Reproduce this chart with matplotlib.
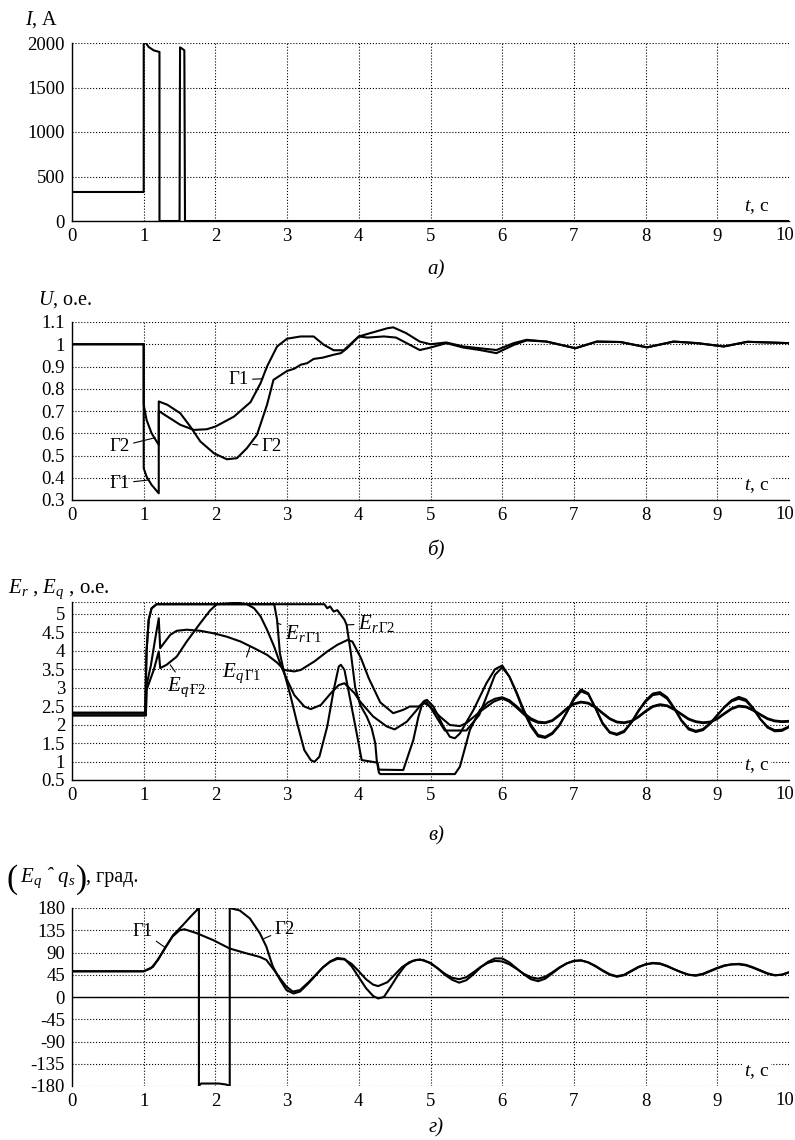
import matplotlib
matplotlib.use("Agg")
import matplotlib.pyplot as plt

# --- fonts: Times-like serif, math in the same family
plt.rcParams['font.family'] = ['Liberation Serif', 'DejaVu Serif']
plt.rcParams['mathtext.fontset'] = 'custom'
plt.rcParams['mathtext.rm'] = 'Liberation Serif'
plt.rcParams['mathtext.it'] = 'Liberation Serif:italic'
plt.rcParams['mathtext.bf'] = 'Liberation Serif:bold'

# ---------------- data ----------------
# a) current I, A
t_I = [0, 1.0, 1.0, 1.07, 1.14, 1.22, 1.22, 1.5, 1.507, 1.544, 1.567, 1.576, 10]
I_A = [326, 326, 2035, 1955, 1917, 1899, 0, 0, 1951, 1932, 1917, 0, 0]

# b) voltage U, p.u.
t_U1 = [0, 1.0, 1.0, 1.04, 1.11, 1.21, 1.21, 1.33, 1.51, 1.70, 1.88, 2.0, 2.26,
        2.49, 2.63, 2.72, 2.86, 3.0, 3.19, 3.37, 3.51, 3.65, 3.79, 4.0, 4.12,
        4.35, 4.52, 4.85, 5.0, 5.22, 5.46, 5.69, 5.92, 6.16, 6.34, 6.62, 7.02,
        7.32, 7.65, 8.02, 8.39, 8.72, 9.09, 9.42, 10]
U_1 = [1, 1, 0.443, 0.405, 0.368, 0.33, 0.70, 0.675, 0.638, 0.615, 0.618, 0.63,
       0.675, 0.74, 0.825, 0.90, 0.99, 1.025, 1.035, 1.035, 0.998, 0.973, 0.973,
       1.035, 1.03, 1.035, 1.03, 0.974, 0.985, 1.005, 0.985, 0.974, 0.96, 0.997,
       1.017, 1.012, 0.982, 1.012, 1.01, 0.986, 1.012, 1.005, 0.99, 1.011, 1.005]
t_U2 = [0, 1.0, 1.0, 1.04, 1.11, 1.18, 1.21, 1.21, 1.33, 1.51, 1.65, 1.79, 1.98,
        2.16, 2.30, 2.44, 2.58, 2.72, 2.81, 3.0, 3.1, 3.19, 3.28, 3.37, 3.5,
        3.65, 3.75, 3.84, 4.0, 4.16, 4.4, 4.48, 4.66, 4.85, 5.0, 5.22, 5.46,
        5.69, 5.92, 6.16, 6.34, 6.62, 7.02, 7.32, 7.65, 8.02, 8.39, 8.72, 9.09,
        9.42, 10]
U_2 = [1, 1, 0.728, 0.66, 0.60, 0.563, 0.548, 0.743, 0.728, 0.69, 0.63, 0.563,
       0.51, 0.483, 0.488, 0.533, 0.593, 0.728, 0.84, 0.88, 0.89, 0.908, 0.915,
       0.934, 0.94, 0.953, 0.96, 0.983, 1.035, 1.05, 1.072, 1.076, 1.05, 1.012,
       1.0, 1.008, 0.99, 0.982, 0.974, 1.005, 1.02, 1.012, 0.982, 1.012, 1.01,
       0.986, 1.012, 1.005, 0.99, 1.011, 1.005]

# c) E_r and E_q, p.u.
t_Er1 = [0, 1.02, 1.04, 1.07, 1.11, 1.18, 2.82, 2.86, 2.9, 2.95, 3.05, 3.14,
         3.24, 3.33, 3.38, 3.45, 3.56, 3.65, 3.72, 3.75, 3.8, 3.89, 3.98, 4.04,
         4.26, 4.28, 4.62, 4.76, 4.83, 4.88, 4.92, 4.99, 5.1, 5.2, 5.5, 5.68,
         5.8, 5.9, 6.0, 6.1, 6.2, 6.3, 6.4, 6.5, 6.6, 6.7, 6.8, 6.9, 7.0, 7.1,
         7.2, 7.3, 7.4, 7.5, 7.6, 7.7, 7.8, 7.9, 8.0, 8.1, 8.2, 8.3, 8.4, 8.5,
         8.6, 8.7, 8.8, 8.9, 9.0, 9.1, 9.2, 9.3, 9.4, 9.5, 9.6, 9.7, 9.8, 9.9, 10]
Er_1 = [2.32, 2.32, 4.0, 4.84, 5.15, 5.26, 5.26, 4.84, 3.93, 3.48, 2.76, 2.04,
        1.31, 1.04, 0.99, 1.13, 1.95, 2.94, 3.57, 3.62, 3.48, 2.58, 1.67, 1.04,
        0.97, 0.78, 0.77, 1.58, 2.2, 2.53, 2.65, 2.5, 2.15, 1.84, 1.84, 2.26,
        2.85, 3.35, 3.55, 3.3, 2.88, 2.4, 2.0, 1.72, 1.67, 1.78, 2.0, 2.33,
        2.68, 2.9, 2.82, 2.45, 2.05, 1.8, 1.75, 1.83, 2.05, 2.36, 2.62, 2.8,
        2.83, 2.7, 2.43, 2.12, 1.9, 1.83, 1.88, 2.04, 2.26, 2.47, 2.63, 2.7,
        2.64, 2.43, 2.15, 1.94, 1.85, 1.86, 1.95]
t_Er2 = [0, 1.02, 1.04, 1.07, 1.11, 1.18, 3.52, 3.56, 3.6, 3.65, 3.7, 3.75, 3.8,
         3.83, 3.89, 3.95, 4.02, 4.11, 4.18, 4.23, 4.25, 4.28, 4.3, 5.34, 5.41,
         5.55, 5.69, 5.8, 5.9, 6.0, 6.1, 6.2, 6.3, 6.4, 6.5, 6.6, 6.7, 6.8, 6.9,
         7.0, 7.1, 7.2, 7.3, 7.4, 7.5, 7.6, 7.7, 7.8, 7.9, 8.0, 8.1, 8.2, 8.3,
         8.4, 8.5, 8.6, 8.7, 8.8, 8.9, 9.0, 9.1, 9.2, 9.3, 9.4, 9.5, 9.6, 9.7,
         9.8, 9.9, 10]
Er_2 = [2.32, 2.32, 4.0, 4.84, 5.15, 5.26, 5.26, 5.15, 5.2, 5.06, 5.1, 4.97, 4.84,
        4.7, 3.93, 3.0, 2.53, 2.22, 1.9, 1.49, 1.04, 0.7, 0.66, 0.66, 0.86, 1.86,
        2.4, 2.6, 2.7, 2.74, 2.66, 2.5, 2.32, 2.17, 2.08, 2.06, 2.12, 2.27, 2.44,
        2.57, 2.62, 2.59, 2.48, 2.32, 2.17, 2.08, 2.06, 2.1, 2.22, 2.37, 2.5,
        2.55, 2.52, 2.42, 2.29, 2.16, 2.09, 2.06, 2.08, 2.17, 2.31, 2.44, 2.51,
        2.49, 2.4, 2.28, 2.17, 2.11, 2.09, 2.1]
t_Eq1 = [0, 1.03, 1.04, 1.1, 1.15, 1.21, 1.23, 1.28, 1.37, 1.46, 1.6, 1.79, 1.98,
         2.16, 2.35, 2.54, 2.72, 2.86, 2.96, 3.1, 3.19, 3.38, 3.56, 3.7, 3.84,
         3.91, 4.03, 4.14, 4.3, 4.48, 4.62, 4.71, 4.83, 4.92, 4.99, 5.13, 5.27,
         5.41, 5.5, 5.69, 5.88, 6.0, 6.1, 6.2, 6.3, 6.4, 6.5, 6.6, 6.7, 6.8, 6.9,
         7.0, 7.1, 7.2, 7.3, 7.4, 7.5, 7.6, 7.7, 7.8, 7.9, 8.0, 8.1, 8.2, 8.3,
         8.4, 8.5, 8.6, 8.7, 8.8, 8.9, 9.0, 9.1, 9.2, 9.3, 9.4, 9.5, 9.6, 9.7,
         9.8, 9.9, 10]
Eq_1 = [2.25, 2.25, 3.07, 3.6, 4.2, 4.88, 4.07, 4.2, 4.43, 4.54, 4.57, 4.54, 4.47,
        4.38, 4.25, 4.07, 3.89, 3.68, 3.48, 3.44, 3.48, 3.71, 3.98, 4.16, 4.29,
        4.25, 3.8, 3.25, 2.6, 2.31, 2.4, 2.49, 2.49, 2.58, 2.49, 2.22, 1.99,
        1.96, 2.04, 2.35, 2.62, 2.71, 2.62, 2.46, 2.28, 2.13, 2.05, 2.04, 2.1,
        2.25, 2.42, 2.55, 2.6, 2.57, 2.46, 2.3, 2.15, 2.06, 2.04, 2.08, 2.2,
        2.35, 2.48, 2.53, 2.5, 2.4, 2.27, 2.14, 2.07, 2.04, 2.06, 2.15, 2.29,
        2.42, 2.49, 2.47, 2.38, 2.26, 2.15, 2.09, 2.07, 2.08]
t_Eq2 = [0, 1.03, 1.04, 1.14, 1.21, 1.23, 1.32, 1.46, 1.6, 1.79, 1.93, 2.02, 2.3,
         2.44, 2.54, 2.63, 2.72, 2.82, 2.91, 3.0, 3.1, 3.24, 3.33, 3.47, 3.61,
         3.72, 3.8, 3.94, 4.02, 4.2, 4.39, 4.5, 4.67, 4.81, 4.9, 4.95, 5.04, 5.18,
         5.27, 5.34, 5.41, 5.6, 5.78, 5.9, 6.0, 6.1, 6.2, 6.3, 6.4, 6.5, 6.6,
         6.7, 6.8, 6.9, 7.0, 7.1, 7.2, 7.3, 7.4, 7.5, 7.6, 7.7, 7.8, 7.9, 8.0,
         8.1, 8.2, 8.3, 8.4, 8.5, 8.6, 8.7, 8.8, 8.9, 9.0, 9.1, 9.2, 9.3, 9.4,
         9.5, 9.6, 9.7, 9.8, 9.9, 10]
Eq_2 = [2.25, 2.25, 2.94, 3.48, 3.98, 3.53, 3.62, 3.84, 4.25, 4.75, 5.1, 5.26,
        5.3, 5.26, 5.15, 4.93, 4.57, 4.11, 3.62, 3.21, 2.8, 2.49, 2.42, 2.53,
        2.85, 3.07, 3.12, 2.85, 2.62, 2.22, 1.95, 1.87, 2.08, 2.4, 2.62, 2.67,
        2.49, 1.95, 1.67, 1.63, 1.76, 2.4, 3.12, 3.5, 3.6, 3.3, 2.85, 2.35, 1.95,
        1.68, 1.64, 1.75, 1.98, 2.33, 2.72, 2.95, 2.85, 2.45, 2.02, 1.78, 1.72,
        1.8, 2.05, 2.38, 2.65, 2.84, 2.88, 2.74, 2.45, 2.1, 1.87, 1.8, 1.85,
        2.02, 2.25, 2.48, 2.66, 2.75, 2.68, 2.45, 2.15, 1.92, 1.82, 1.83, 1.93]

# d) angle (E_q ^ q_s), degrees
t_d1 = [0, 1.0, 1.1, 1.2, 1.3, 1.4, 1.5, 1.57, 1.74, 1.97, 2.2, 2.44, 2.62,
        2.71, 2.8, 2.9, 2.99, 3.08, 3.18, 3.3, 3.4, 3.5, 3.6, 3.7, 3.8, 3.9,
        4.0, 4.1, 4.2, 4.27, 4.4, 4.5, 4.6, 4.7, 4.8, 4.9, 5.0, 5.1, 5.2, 5.3,
        5.4, 5.5, 5.6, 5.7, 5.8, 5.9, 6.0, 6.1, 6.2, 6.3, 6.4, 6.5, 6.6, 6.7,
        6.8, 6.9, 7.0, 7.1, 7.2, 7.3, 7.4, 7.5, 7.6, 7.7, 7.8, 7.9, 8.0, 8.1,
        8.2, 8.3, 8.4, 8.5, 8.6, 8.7, 8.8, 8.9, 9.0, 9.1, 9.2, 9.3, 9.4, 9.5,
        9.6, 9.7, 9.8, 9.9, 10]
d_1 = [52, 52, 58, 75, 100, 122, 135, 137, 129, 115, 98, 88, 81, 75, 58, 38, 21,
       11, 14, 30, 45, 60, 71, 77, 76, 67, 52, 36, 25, 22, 30, 45, 60, 70, 75,
       75, 68, 58, 47, 39, 36, 40, 50, 61, 69, 73, 72, 66, 57, 47, 40, 37, 41,
       50, 60, 68, 73, 74, 70, 63, 54, 46, 42, 45, 53, 61, 66, 68, 67, 62, 56,
       50, 45, 44, 47, 53, 59, 64, 66, 66, 64, 59, 53, 47, 44, 45, 50]
t_d2 = [0, 1.0, 1.13, 1.27, 1.41, 1.55, 1.65, 1.77, 1.77, 1.8, 2.05, 2.15, 2.2,
        2.2, 2.34, 2.48, 2.62, 2.71, 2.8, 2.9, 2.99, 3.09, 3.18, 3.3, 3.4, 3.5,
        3.6, 3.7, 3.8, 3.9, 4.0, 4.1, 4.2, 4.27, 4.35, 4.45, 4.55, 4.65, 4.75,
        4.85, 5.0, 5.1, 5.2, 5.3, 5.4, 5.5, 5.6, 5.7, 5.8, 5.9, 6.0, 6.1, 6.2,
        6.3, 6.4, 6.5, 6.6, 6.7, 6.8, 6.9, 7.0, 7.1, 7.2, 7.3, 7.4, 7.5, 7.6,
        7.7, 7.8, 7.9, 8.0, 8.1, 8.2, 8.3, 8.4, 8.5, 8.6, 8.7, 8.8, 8.9, 9.0,
        9.1, 9.2, 9.3, 9.4, 9.5, 9.6, 9.7, 9.8, 9.9, 10]
d_2 = [52, 52, 61, 92, 125, 146, 162, 180, -180, -175, -175, -177, -180, 180,
       175, 159, 129, 102, 62, 35, 14, 7, 11, 28, 44, 60, 72, 79, 77, 62, 40, 18,
       2, -3, 0, 22, 45, 64, 73, 76, 69, 58, 45, 35, 29, 34, 46, 60, 71, 78, 78,
       70, 58, 46, 36, 32, 37, 48, 59, 68, 73, 74, 70, 62, 53, 45, 41, 44, 52,
       60, 66, 69, 68, 63, 56, 50, 45, 43, 46, 52, 58, 63, 66, 67, 65, 60, 54,
       48, 44, 45, 50]

# ---------------- figure ----------------
fig = plt.figure(figsize=(7.95, 11.4), dpi=100)

L, W, H = 72 / 795, 717 / 795, 178 / 1140
bottoms = [1 - 221 / 1140, 1 - 500 / 1140, 1 - 780 / 1140, 1 - 1086 / 1140]
axs = [fig.add_axes([L, b, W, H]) for b in bottoms]

LW = 1.5
FS = 13.5


def style(ax, ylim, yticks, ylabels):
    ax.set_xlim(0, 10)
    ax.set_ylim(*ylim)
    ax.set_xticks(range(11))
    # last label "10" is drawn by hand, shifted left so it is not cut off
    ax.set_xticklabels([str(i) for i in range(10)] + [''])
    ax.annotate('10', xy=(1, 0), xycoords='axes fraction', xytext=(-3, -4.5),
                textcoords='offset points', ha='center', va='top', fontsize=FS)
    ax.set_yticks(yticks)
    ax.set_yticklabels(ylabels)
    ax.tick_params(length=0, labelsize=FS, pad=5)
    ax.grid(True, linestyle=':', color='black', linewidth=0.8)
    for s in ['top', 'right']:
        ax.spines[s].set_visible(False)
    for s in ['left', 'bottom']:
        ax.spines[s].set_linewidth(1.0)
    ax.text(0.955, 0.08, '$t$, с', transform=ax.transAxes, ha='center',
            va='center', fontsize=14, zorder=6,
            bbox=dict(facecolor='white', edgecolor='none', pad=1))


lead = dict(arrowstyle='-', lw=0.8, color='black', shrinkA=1, shrinkB=0)

# a)
ax = axs[0]
ax.plot(t_I, I_A, color='black', lw=LW)
style(ax, (0, 2000), [0, 500, 1000, 1500, 2000],
      ['0', '500', '1000', '1500', '2000'])

# b)
ax = axs[1]
ax.plot(t_U1, U_1, color='black', lw=LW)
ax.plot(t_U2, U_2, color='black', lw=LW)
u_ticks = [0.3, 0.4, 0.5, 0.6, 0.7, 0.8, 0.9, 1.0, 1.1]
style(ax, (0.3, 1.1), u_ticks, ['0.3', '0.4', '0.5', '0.6', '0.7', '0.8',
                                '0.9', '1', '1.1'])
ax.annotate('Г1', xy=(2.66, 0.845), xytext=(2.32, 0.84), ha='center',
            va='center', fontsize=FS, arrowprops=lead)
ax.annotate('Г2', xy=(2.52, 0.55), xytext=(2.79, 0.54), ha='center',
            va='center', fontsize=FS, arrowprops=lead)
ax.annotate('Г2', xy=(1.16, 0.58), xytext=(0.66, 0.54), ha='center',
            va='center', fontsize=FS, arrowprops=lead)
ax.annotate('Г1', xy=(1.07, 0.39), xytext=(0.66, 0.375), ha='center',
            va='center', fontsize=FS, arrowprops=lead)

# c)
ax = axs[2]
for tt, vv in [(t_Er1, Er_1), (t_Er2, Er_2), (t_Eq1, Eq_1), (t_Eq2, Eq_2)]:
    ax.plot(tt, vv, color='black', lw=LW)
e_ticks = [0.5, 1, 1.5, 2, 2.5, 3, 3.5, 4, 4.5, 5]
style(ax, (0.5, 5.32), e_ticks, ['0.5', '1', '1.5', '2', '2.5', '3', '3.5',
                                 '4', '4.5', '5'])
ax.axhline(5.32, linestyle=':', color='black', linewidth=0.8)
ax.annotate(r'$E_{r\,\Gamma1}$', xy=(2.86, 4.75), xytext=(2.97, 4.48),
            ha='left', va='center', fontsize=15, arrowprops=lead)
ax.annotate(r'$E_{r\,\Gamma2}$', xy=(3.84, 4.7), xytext=(3.99, 4.74),
            ha='left', va='center', fontsize=15, arrowprops=lead)
ax.annotate(r'$E_{q\,\Gamma1}$', xy=(2.48, 4.1), xytext=(2.09, 3.4),
            ha='left', va='center', fontsize=15, arrowprops=lead)
ax.annotate(r'$E_{q\,\Gamma2}$', xy=(1.37, 3.62), xytext=(1.32, 3.0),
            ha='left', va='center', fontsize=15, arrowprops=lead)

# d)
ax = axs[3]
ax.plot(t_d1, d_1, color='black', lw=LW)
ax.plot(t_d2, d_2, color='black', lw=LW)
d_ticks = [-180, -135, -90, -45, 0, 45, 90, 135, 180]
style(ax, (-180, 180), d_ticks, [str(v) for v in d_ticks])
ax.spines['bottom'].set_visible(False)
ax.axhline(0, color='black', lw=1.0)
ax.annotate('Г1', xy=(1.3, 100), xytext=(0.98, 133), ha='center',
            va='center', fontsize=FS, arrowprops=lead)
ax.annotate('Г2', xy=(2.66, 117), xytext=(2.97, 137), ha='center',
            va='center', fontsize=FS, arrowprops=lead)

# axis titles above each panel
fig.text(25 / 795, 1 - 25 / 1140, '$I$, А', fontsize=14.5, va='baseline')
fig.text(38 / 795, 1 - 305 / 1140, '$U$, о.е.', fontsize=14.5, va='baseline')
fig.text(8 / 795, 1 - 593 / 1140, '$E_r$ , $E_q$ , о.е.', fontsize=15,
         va='baseline')
# (E_q ^ q_s), град. -- tall brackets drawn as separate bigger glyphs
fig.text(6 / 795, 1 - 888 / 1140, '(', fontsize=24, va='baseline')
fig.text(20 / 795, 1 - 882 / 1140, '$E_q\\ \u02c6\\ q_s$', fontsize=15,
         va='baseline')
fig.text(76 / 795, 1 - 888 / 1140, ')', fontsize=24, va='baseline')
fig.text(86 / 795, 1 - 882 / 1140, ', град.', fontsize=14.5, va='baseline')

# captions under each panel
for y, cap in [(270, 'а)'), (550, 'б)'), (836, 'в)'), (1128, 'г)')]:
    fig.text(436 / 795, 1 - y / 1140, cap, fontsize=15, style='italic',
             ha='center', va='center')

fig.savefig('out.png', dpi=100)
